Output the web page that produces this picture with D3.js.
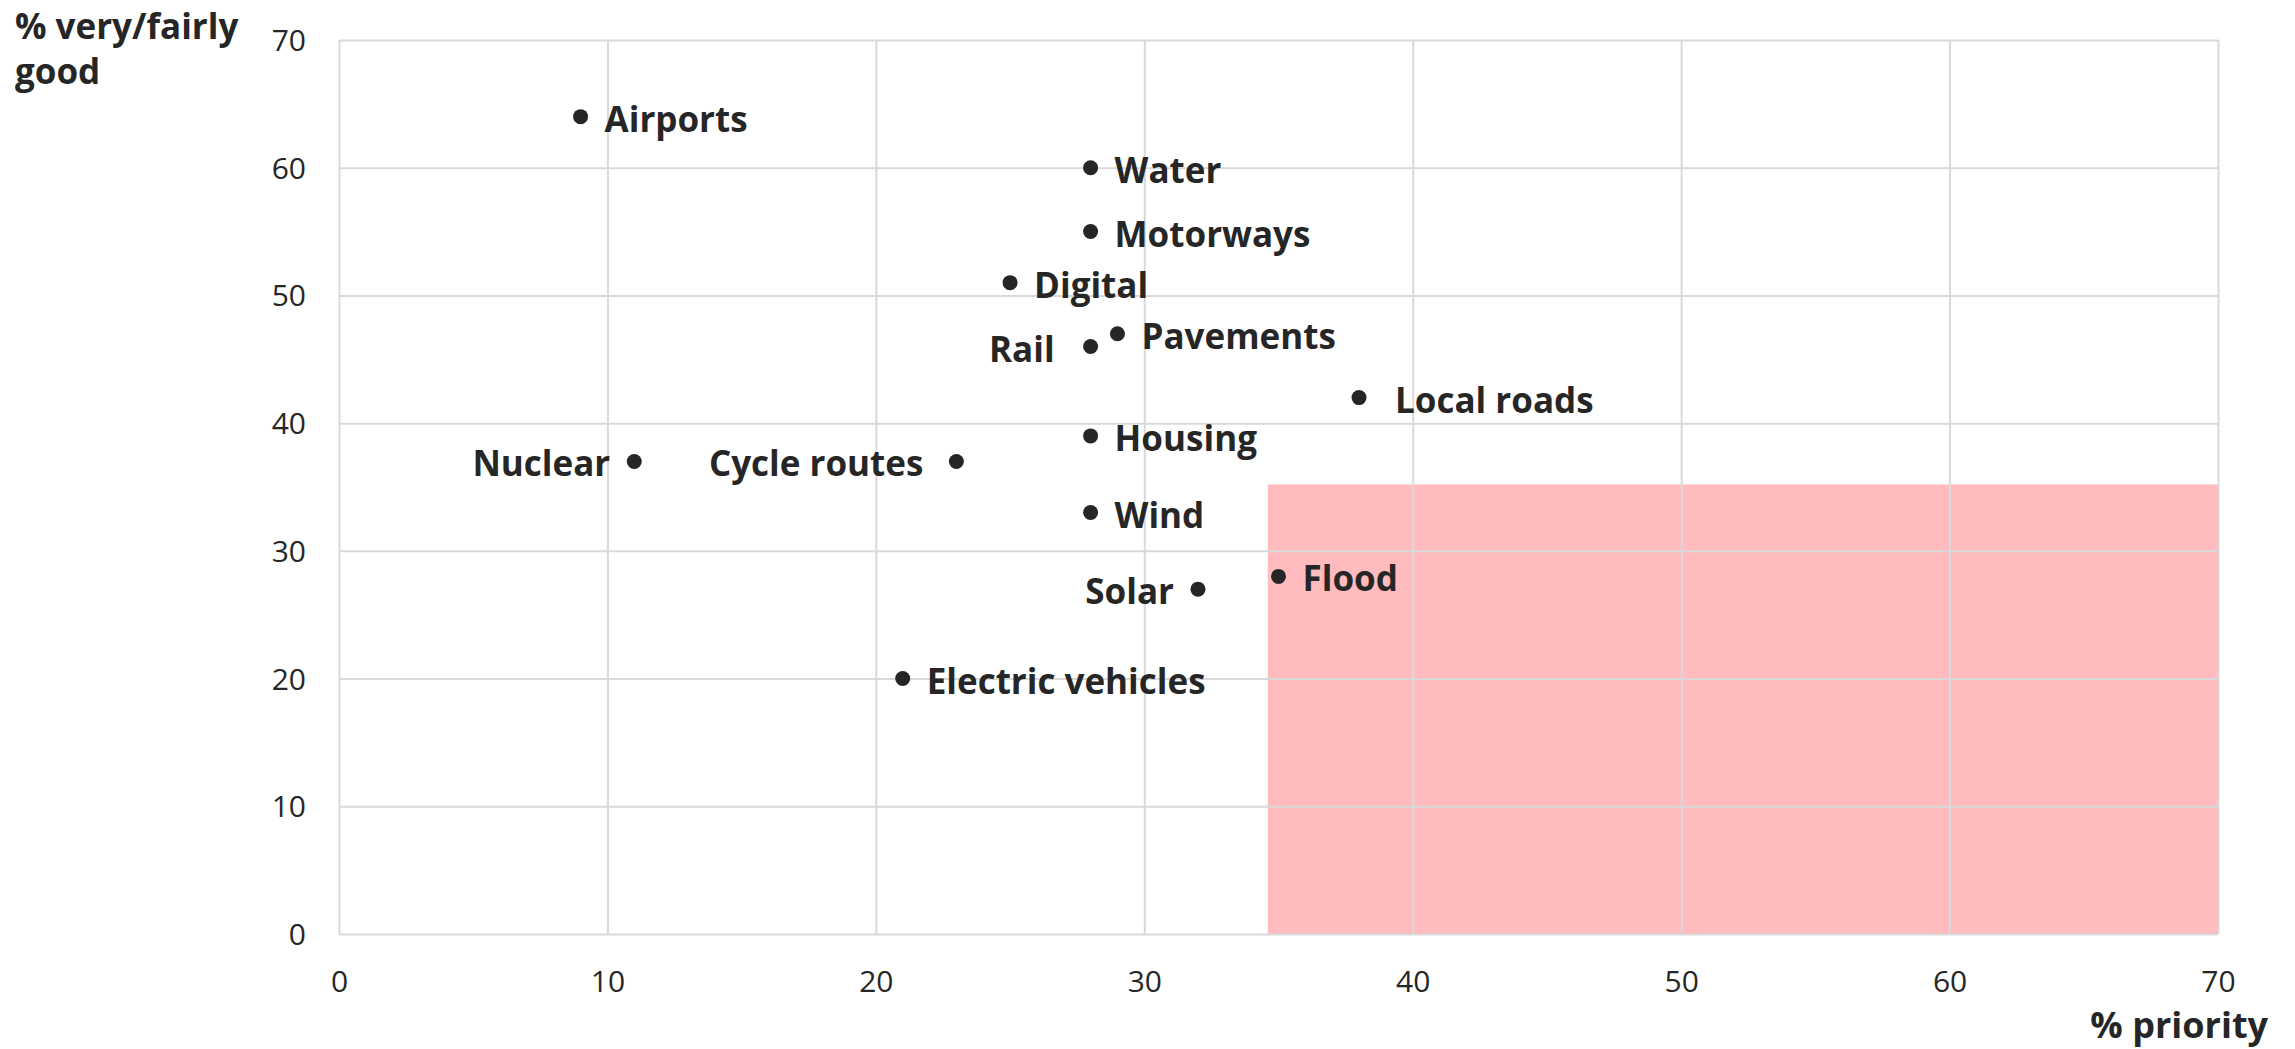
<!DOCTYPE html>
<html>
<head>
<meta charset="utf-8">
<script src="https://cdn.jsdelivr.net/npm/d3@7/dist/d3.min.js"></script>
<style>
  html, body { margin: 0; padding: 0; background: #fff; }
  svg { display: block; }
  text { font-family: "Open Sans", "Noto Sans", sans-serif; fill: #262626; }
</style>
</head>
<body>
<svg id="chart" width="2295" height="1049"></svg>
<script>
// ---- data ----
const categories = ["Airports","Water","Motorways","Digital","Rail","Pavements","Local roads","Housing","Nuclear","Cycle routes","Wind","Solar","Flood","Electric vehicles"];
const priority   = [9, 28, 28, 25, 28, 29, 38, 28, 11, 23, 28, 32, 35, 21];
const good       = [64, 60, 55, 51, 46, 47, 42, 39, 37, 37, 33, 27, 28, 20];
const labelSide  = ["right","right","right","right","left","right","right","right","left","left","right","left","right","right"];
const xTicks = [0, 10, 20, 30, 40, 50, 60, 70];
const yTicks = [0, 10, 20, 30, 40, 50, 60, 70];
const zoneX = [34.6, 70];   // highlighted region, % priority
const zoneY = [0, 35.2];    // highlighted region, % very/fairly good
const xTitle = "% priority";
const yTitle = ["% very/fairly", "good"];

// ---- layout ----
const svg = d3.select("#chart");
const mLeft = 339, mRight = 2218, mTop = 40, mBottom = 934;
const x = d3.scaleLinear().domain([0, 70]).range([mLeft, mRight]);
const y = d3.scaleLinear().domain([0, 70]).range([mBottom, mTop]);

// highlight zone
svg.append("rect")
  .attr("x", x(zoneX[0])).attr("y", y(zoneY[1]))
  .attr("width", x(zoneX[1]) - x(zoneX[0]))
  .attr("height", y(zoneY[0]) - y(zoneY[1]))
  .attr("fill", "#FFBBBE");

// gridlines
const gx = svg.append("g").attr("transform", `translate(0,${mBottom})`)
  .call(d3.axisBottom(x).tickValues(xTicks).tickSize(-(mBottom - mTop)).tickFormat(""));
const gy = svg.append("g").attr("transform", `translate(${mLeft},0)`)
  .call(d3.axisLeft(y).tickValues(yTicks).tickSize(-(mRight - mLeft)).tickFormat(""));
[gx, gy].forEach(g => {
  g.select(".domain").remove();
  g.selectAll(".tick line").attr("stroke", "#d9d9d9").attr("stroke-width", 2);
});

// tick labels
const lx = svg.append("g").attr("transform", `translate(0,${mBottom})`)
  .call(d3.axisBottom(x).tickValues(xTicks).tickSize(0).tickPadding(0).tickFormat(d3.format("d")));
lx.select(".domain").remove();
lx.selectAll(".tick text").attr("font-size", 30).attr("font-family", null)
  .attr("y", 58).attr("dy", null).attr("fill", "#262626");

const ly = svg.append("g").attr("transform", `translate(${mLeft},0)`)
  .call(d3.axisLeft(y).tickValues(yTicks).tickSize(0).tickPadding(33).tickFormat(d3.format("d")));
ly.select(".domain").remove();
ly.selectAll(".tick text").attr("font-size", 30).attr("font-family", null)
  .attr("dy", "0.35em").attr("fill", "#262626");

// axis titles
const yt = svg.append("text").attr("x", 15).attr("y", 39)
  .attr("font-size", 35).attr("font-weight", 700);
yTitle.forEach((t, i) => yt.append("tspan").attr("x", 15).attr("y", 39 + i * 45).text(t));
svg.append("text").attr("x", 2268).attr("y", 1038).attr("text-anchor", "end")
  .attr("font-size", 36).attr("font-weight", 700).text(xTitle);

// points
const pts = categories.map((c, i) => ({ name: c, px: priority[i], py: good[i], side: labelSide[i] }));
const extraGap = { "Local roads": 12, "Rail": 12, "Cycle routes": 9 };
svg.append("g").selectAll("circle").data(pts).join("circle")
  .attr("cx", d => x(d.px)).attr("cy", d => y(d.py)).attr("r", 7.5)
  .attr("fill", "#262626");
svg.append("g").selectAll("text").data(pts).join("text")
  .attr("x", d => x(d.px) + (d.side === "right" ? 1 : -1) * (24 + (extraGap[d.name] || 0)))
  .attr("y", d => y(d.py) + 15)
  .attr("text-anchor", d => d.side === "right" ? "start" : "end")
  .attr("font-size", 35).attr("font-weight", 700)
  .text(d => d.name);
</script>
</body>
</html>
